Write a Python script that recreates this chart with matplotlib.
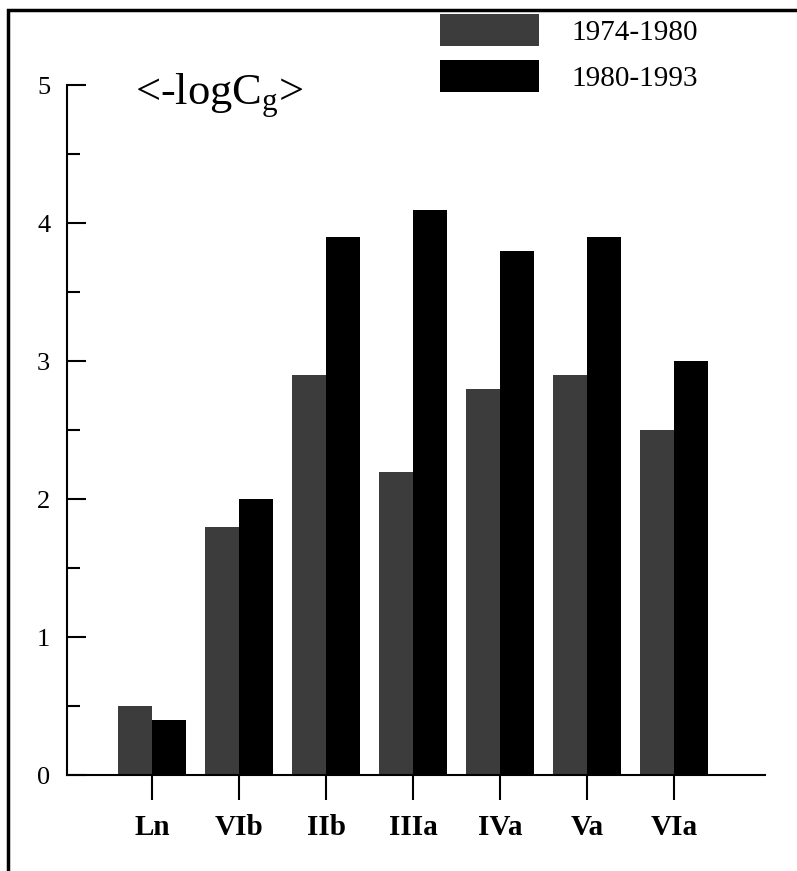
import numpy as np
import matplotlib
matplotlib.use("Agg")
import matplotlib.pyplot as plt
from matplotlib.patches import Rectangle
from matplotlib.ticker import MultipleLocator

plt.rcParams['font.family'] = ['Liberation Serif', 'DejaVu Serif']
plt.rcParams['mathtext.fontset'] = 'custom'
plt.rcParams['mathtext.rm'] = 'Liberation Serif'
plt.rcParams['mathtext.it'] = 'Liberation Serif'

# groups and the two periods
groups = ["Ln", "VIb", "IIb", "IIIa", "IVa", "Va", "VIa"]
period_labels = ["1974-1980", "1980-1993"]
vals_1974 = [0.5, 1.8, 2.9, 2.2, 2.8, 2.9, 2.5]
vals_1980 = [0.4, 2.0, 3.9, 4.1, 3.8, 3.9, 3.0]

fig = plt.figure(figsize=(7.97, 8.71), dpi=100)
ax = fig.add_axes([0.084, 0.110, 0.876, 0.792])

x = np.arange(len(groups))
w = 0.39
b1 = ax.bar(x - w / 2, vals_1974, w, color="#3c3c3c", label=period_labels[0])
b2 = ax.bar(x + w / 2, vals_1980, w, color="black", label=period_labels[1])

ax.set_xlim(-0.98, 7.05)
ax.set_ylim(0, 5)

# axes look: only left and bottom spines
ax.spines["top"].set_visible(False)
ax.spines["right"].set_visible(False)
ax.spines["left"].set_linewidth(1.5)
ax.spines["bottom"].set_linewidth(1.5)

ax.yaxis.set_major_locator(MultipleLocator(1))
ax.yaxis.set_minor_locator(MultipleLocator(0.5))
ax.tick_params(axis="y", which="major", direction="in", length=14, width=1.5,
               labelsize=19, pad=12)
ax.tick_params(axis="y", which="minor", direction="in", length=9, width=1.5)

ax.set_xticks(x)
ax.set_xticklabels(groups, fontsize=21, fontweight="bold")
ax.tick_params(axis="x", direction="out", length=18, width=1.5, pad=10)

ax.text(0.097, 0.95, r"<-logC$_{\mathrm{g}}$>", transform=ax.transAxes,
        fontsize=32, va="bottom", ha="left")

# legend drawn in the top right corner
fig.legend(handles=[b1, b2], labels=period_labels, loc="upper left",
           bbox_to_anchor=(0.519, 1.014), frameon=False, fontsize=21,
           handlelength=3.4, handleheight=1.3, handletextpad=1.1,
           labelspacing=0.5)

# outer frame around the figure
fig.patches.append(Rectangle((0.01, -0.01), 1.0, 0.998, transform=fig.transFigure,
                             fill=False, edgecolor="black", linewidth=2.5))

fig.savefig("out.png", dpi=100)
